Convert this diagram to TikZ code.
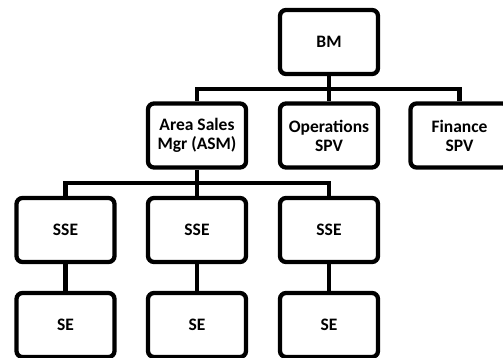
\documentclass[tikz,border=0pt]{standalone}
\usepackage{fontspec}
\setmainfont{Carlito}
\usepackage{tikz}

\begin{document}
\begin{tikzpicture}[x=1pt, y=-1pt, line width=4.3pt,
    post/.style={draw, rounded corners=6pt, minimum width=98pt, minimum height=64pt, align=center, font=\fontsize{17.5}{19}\selectfont\bfseries}]
    \useasboundingbox (0,0) rectangle (503,358);
    \clip (0,0) rectangle (503,358);
    \node[post] (bm) at (329,42) {BM};
    \node[post] (asm) at (197,135.5) {Area Sales\\Mgr (ASM)};
    \node[post] (ops) at (329,135.5) {Operations\\SPV};
    \node[post] (fin) at (459.5,135.5) {Finance\\SPV};
    \node[post] (sse1) at (65.5,230) {SSE};
    \node[post] (sse2) at (197,230) {SSE};
    \node[post] (sse3) at (329,230) {SSE};
    \node[post] (se1) at (65.5,325) {SE};
    \node[post] (se2) at (197,325) {SE};
    \node[post] (se3) at (329,325) {SE};
    \coordinate (bmbar) at (329,89);
    \coordinate (asmbar) at (197,183);

    \draw (bm) -- (ops);
    \draw (bmbar) -| (asm);
    \draw (bmbar) -| (fin);
    \draw (asm) -- (sse2);
    \draw (asmbar) -| (sse1);
    \draw (asmbar) -| (sse3);
    \draw (sse1) -- (se1);
    \draw (sse2) -- (se2);
    \draw (sse3) -- (se3);
\end{tikzpicture}
\end{document}
